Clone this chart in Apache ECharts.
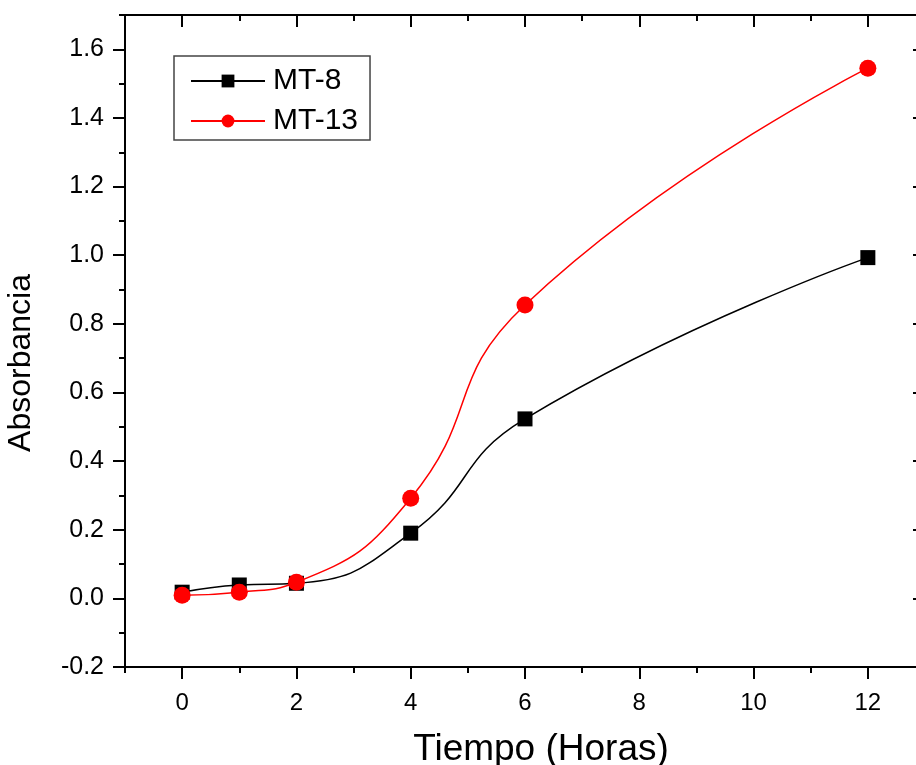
<!DOCTYPE html>
<html>
<head>
<meta charset="utf-8">
<script src="https://cdn.jsdelivr.net/npm/echarts@6/dist/echarts.min.js"></script>
<style>html,body{margin:0;padding:0;background:#fff;}#c{width:916px;height:765px;}</style>
</head>
<body>
<div id="c"></div>
<script>
const hours = [0, 1, 2, 4, 6, 12];
const mt8 = [0.018, 0.039, 0.044, 0.19, 0.523, 0.993];
const mt13 = [0.009, 0.018, 0.047, 0.292, 0.855, 1.545];
const xMajor = [0, 2, 4, 6, 8, 10, 12];
const xMinor = [-1, 1, 3, 5, 7, 9, 11, 13];
const yMajor = [-0.2, 0, 0.2, 0.4, 0.6, 0.8, 1.0, 1.2, 1.4, 1.6];
const yMinor = [-0.1, 0.1, 0.3, 0.5, 0.7, 0.9, 1.1, 1.3, 1.5, 1.7];

const font = 'Arial, "Liberation Sans", sans-serif';
const black = '#000';

function xAx(pos, ticks, len, inside, showLine, labels) {
  return {
    type: 'value', position: pos, min: -1, max: 13, gridIndex: 0,
    axisLine: { show: showLine, onZero: false, lineStyle: { color: black, width: 2 } },
    axisTick: { show: true, inside: inside, length: len, customValues: ticks, lineStyle: { color: black, width: 2 } },
    axisLabel: labels ? { show: true, customValues: xMajor, fontSize: 24, color: '#000', fontFamily: font, margin: 24 } : { show: false },
    splitLine: { show: false }
  };
}
function yAx(pos, ticks, len, inside, showLine, labels) {
  return {
    type: 'value', position: pos, min: -0.2, max: 1.7, gridIndex: 0,
    axisLine: { show: showLine, onZero: false, lineStyle: { color: black, width: 2 } },
    axisTick: { show: true, inside: inside, length: len, customValues: ticks, lineStyle: { color: black, width: 2 } },
    axisLabel: labels ? { show: true, customValues: yMajor, fontSize: 25, color: '#000', fontFamily: font, margin: 21,
      formatter: v => (Math.abs(v) < 1e-9 ? 0 : v).toFixed(1) } : { show: false },
    splitLine: { show: false }
  };
}

const xs = [
  Object.assign(xAx('bottom', xMajor, 12, false, true, true), {
    name: 'Tiempo (Horas)', nameLocation: 'middle', nameGap: 64,
    nameTextStyle: { fontSize: 37, color: '#000', fontFamily: font, padding: [0, 0, 0, 32] }
  }),
  xAx('bottom', xMinor, 6, false, false, false),
  xAx('top', xMajor, 12, true, true, false),
  xAx('top', xMinor, 6, true, false, false)
];
const ys = [
  Object.assign(yAx('left', yMajor, 12, false, true, true), {
    name: 'Absorbancia', nameLocation: 'middle', nameGap: 88,
    nameTextStyle: { fontSize: 32, color: '#000', fontFamily: font, padding: [0, 44, 0, 0] }
  }),
  yAx('left', yMinor, 6, false, false, false),
  yAx('right', yMajor, 12, true, true, false),
  yAx('right', yMinor, 6, true, false, false)
];

const chart = echarts.init(document.getElementById('c'), null, { renderer: 'canvas' });
chart.setOption({
  backgroundColor: '#fff',
  animation: false,
  grid: { left: 125, top: 15, width: 800, height: 652, containLabel: false, outerBoundsMode: 'none' },
  xAxis: xs,
  yAxis: ys,
  legend: {
    orient: 'vertical', left: 174, top: 56,
    borderColor: '#444', borderWidth: 1.5, borderRadius: 0,
    padding: [10, 12, 4, 16], itemGap: 10,
    itemWidth: 74, itemHeight: 16,
    textStyle: { fontSize: 30, color: '#000', fontFamily: font, padding: [0, 0, 0, 3] },
    data: ['MT-8', 'MT-13']
  },
  series: [
    {
      name: 'MT-8', type: 'line', xAxisIndex: 0, yAxisIndex: 0,
      data: hours.map((h, i) => [h, mt8[i]]),
      smooth: 0.5, symbol: 'rect', symbolSize: 15,
      lineStyle: { color: '#000', width: 1.5 },
      itemStyle: { color: '#000' }
    },
    {
      name: 'MT-13', type: 'line', xAxisIndex: 0, yAxisIndex: 0,
      data: hours.map((h, i) => [h, mt13[i]]),
      smooth: 0.5, symbol: 'circle', symbolSize: 17,
      lineStyle: { color: '#ff0000', width: 1.5 },
      itemStyle: { color: '#ff0000' }
    }
  ]
});
</script>
</body>
</html>
